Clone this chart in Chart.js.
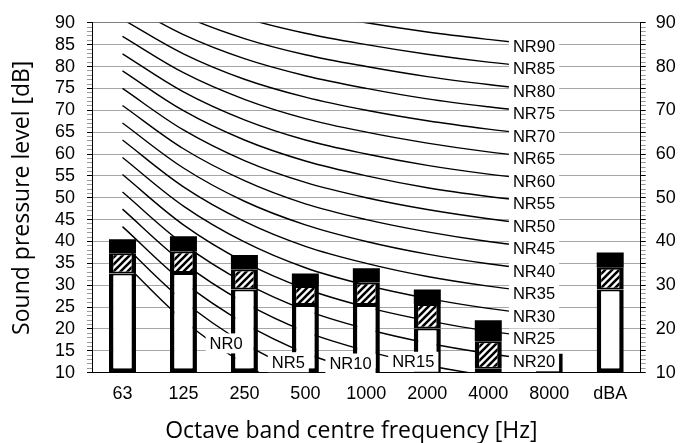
<!DOCTYPE html>
<html>
<head>
<meta charset="utf-8">
<script src="https://cdn.jsdelivr.net/npm/chart.js@4.4.1/dist/chart.umd.min.js"></script>
<style>
  html, body { margin: 0; padding: 0; background: #fff; }
</style>
</head>
<body>
<canvas id="c" width="680" height="443"></canvas>
<script>
// categories
const bands = ["63", "125", "250", "500", "1000", "2000", "4000", "8000", "dBA"];

// measured levels, dB (open part / hatched part / solid top)
const openTop  = [32.7, 32.8, 29.0, 25.5, 25.5, 20.1, 10.9, 14.4, 29.0];
const hatchTop = [37.3, 37.7, 33.6, 29.8, 30.6, 25.7, 17.2, null, 34.0];
const solidTop = [40.5, 41.2, 36.9, 32.7, 33.9, 29.0, 22.0, null, 37.5];

// NR curves, 63 ... 8000 Hz
const nrNames = ["NR0", "NR5", "NR10", "NR15", "NR20", "NR25", "NR30", "NR35", "NR40",
                 "NR45", "NR50", "NR55", "NR60", "NR65", "NR70", "NR75", "NR80", "NR85", "NR90"];
const nrCurves = [
    [35.5, 22.0, 12.0, 4.8, 0.0, -3.5, -6.1, -8.0],
    [39.5, 26.4, 16.7, 9.7, 5.0, 1.6, -1.0, -2.9],
    [43.4, 30.7, 21.3, 14.5, 10.0, 6.7, 4.2, 2.3],
    [47.4, 35.1, 26.0, 19.4, 15.0, 11.7, 9.3, 7.5],
    [51.3, 39.4, 30.6, 24.3, 20.0, 16.8, 14.4, 12.6],
    [55.3, 43.8, 35.3, 29.2, 25.0, 21.9, 19.5, 17.8],
    [59.2, 48.1, 39.9, 34.0, 30.0, 27.0, 24.7, 22.9],
    [63.2, 52.5, 44.6, 38.9, 35.0, 32.0, 29.8, 28.1],
    [67.1, 56.8, 49.2, 43.8, 40.0, 37.1, 34.9, 33.2],
    [71.1, 61.2, 53.9, 48.6, 45.0, 42.2, 40.0, 38.4],
    [75.0, 65.5, 58.5, 53.5, 50.0, 47.3, 45.2, 43.5],
    [79.0, 69.9, 63.2, 58.4, 55.0, 52.3, 50.3, 48.7],
    [82.9, 74.2, 67.8, 63.2, 60.0, 57.4, 55.4, 53.8],
    [86.9, 78.6, 72.5, 68.1, 65.0, 62.5, 60.5, 59.0],
    [90.8, 82.9, 77.1, 73.0, 70.0, 67.6, 65.7, 64.1],
    [94.8, 87.3, 81.8, 77.9, 75.0, 72.6, 70.8, 69.3],
    [98.7, 91.6, 86.4, 82.7, 80.0, 77.7, 75.9, 74.4],
    [102.7, 96.0, 91.1, 87.6, 85.0, 82.8, 81.0, 79.6],
    [106.6, 100.3, 95.7, 92.5, 90.0, 87.9, 86.2, 84.7]
];

// where the low curve names sit (band position, dB)
const lowLabelAt = { NR0: [1.70, 16.7], NR5: [2.72, 12.4], NR10: [3.74, 12.1], NR15: [4.77, 12.5] };
const endLabelPos = 6.75;

const xTitle = "Octave band centre frequency [Hz]";
const yTitle = "Sound pressure level [dB]";

// hatch fill
function makeHatch() {
    const n = 7;
    const p = document.createElement("canvas");
    p.width = n; p.height = n;
    const g = p.getContext("2d");
    g.fillStyle = "#fff";
    g.fillRect(0, 0, n, n);
    g.strokeStyle = "#000";
    g.lineWidth = 2.6;
    g.beginPath();
    for (let k = -1; k <= 1; k++) {
        g.moveTo(k * n - 1, n + 1);
        g.lineTo(k * n + n + 1, -1);
    }
    g.stroke();
    return g.createPattern(p, "repeat");
}
const hatch = makeHatch();

const nrLabels = {
    id: "nrLabels",
    afterDatasetsDraw(chart) {
        const { ctx, scales: { x, y } } = chart;
        ctx.save();
        ctx.font = "16.5px 'Liberation Sans', Arial, sans-serif";
        ctx.textAlign = "center";
        ctx.textBaseline = "middle";
        nrNames.forEach((name, i) => {
            let px, py;
            if (lowLabelAt[name]) {
                px = x.getPixelForValue(lowLabelAt[name][0]);
                py = y.getPixelForValue(lowLabelAt[name][1]);
            } else {
                px = x.getPixelForValue(endLabelPos);
                py = y.getPixelForValue(nrCurves[i][7]);
            }
            const w = ctx.measureText(name).width;
            ctx.fillStyle = "#fff";
            ctx.fillRect(px - w / 2 - 4, py - 10, w + 8, 20);
            ctx.fillStyle = "#000";
            ctx.fillText(name, px, py + 1);
        });
        ctx.restore();
    }
};

// x title sits a little left of the plot centre in the original
const xTitlePlugin = {
    id: "xTitle",
    afterDraw(chart) {
        const { ctx, chartArea } = chart;
        ctx.save();
        ctx.font = "23px 'Open Sans', sans-serif";
        ctx.fillStyle = "#000";
        ctx.textAlign = "center";
        ctx.textBaseline = "alphabetic";
        ctx.fillText(xTitle, (chartArea.left + chartArea.right) / 2 - 15, chart.height - 5);
        ctx.restore();
    }
};

const barCommon = {
    type: "bar",
    grouped: false,
    barPercentage: 0.443,
    categoryPercentage: 1,
    borderColor: "#000",
    borderSkipped: false,
    order: 1
};

const datasets = [
    Object.assign({}, barCommon, {
        data: bands.map((b, i) => [10, openTop[i]]),
        backgroundColor: "#fff",
        borderWidth: { left: 4.5, right: 4.5, bottom: 4.5, top: 2 }
    }),
    Object.assign({}, barCommon, {
        data: bands.map((b, i) => hatchTop[i] == null ? null : [openTop[i], hatchTop[i]]),
        backgroundColor: hatch,
        borderWidth: { left: 4.5, right: 4.5, bottom: 2, top: 2 }
    }),
    Object.assign({}, barCommon, {
        data: bands.map((b, i) => solidTop[i] == null ? null : [hatchTop[i], solidTop[i]]),
        backgroundColor: "#000",
        borderWidth: 0
    })
];

nrCurves.forEach((vals, i) => {
    datasets.push({
        type: "line",
        label: nrNames[i],
        data: vals,
        borderColor: "#000",
        borderWidth: 1.4,
        pointRadius: 0,
        tension: 0.35,
        capBezierPoints: false,
        fill: false,
        clip: 0,
        order: 10
    });
});

const tickFont = { family: "'Liberation Sans', Arial, sans-serif", size: 18 };
const titleFont = { family: "'Open Sans', sans-serif", size: 23 };
const minorTick = c => (c.tick && c.tick.value % 5 === 0) ? "#000" : "#9a9a9a";

new Chart(document.getElementById("c"), {
    type: "bar",
    data: { labels: bands, datasets },
    options: {
        responsive: false,
        animation: false,
        events: [],
        layout: { padding: { top: 17, left: 0, right: 0, bottom: 0 } },
        plugins: { legend: { display: false }, tooltip: { enabled: false } },
        scales: {
            x: {
                type: "category",
                offset: true,
                grid: { display: false, drawTicks: false },
                border: { display: true, color: "#000", width: 1 },
                ticks: { color: "#000", font: tickFont, padding: 11, maxRotation: 0 },
                afterFit: s => { s.height = 70.3; }
            },
            y: {
                position: "left",
                min: 10, max: 90,
                ticks: { stepSize: 1, autoSkip: false, color: "#000", font: tickFont, padding: 12,
                         callback: v => v % 5 === 0 ? v : "" },
                grid: {
                    color: c => (c.tick && c.tick.value === 90) ? "#7f7f7f"
                        : (c.tick && c.tick.value % 5 === 0) ? "#a6a6a6" : "rgba(0,0,0,0)",
                    tickColor: minorTick, tickLength: 5
                },
                border: { color: "#000", width: 1 },
                title: { display: true, text: yTitle, color: "#000",
                         font: titleFont, padding: { top: 9, bottom: 0 } },
                afterFit: s => { s.width = 92; }
            },
            y2: {
                position: "right",
                min: 10, max: 90,
                ticks: { stepSize: 1, autoSkip: false, color: "#000", font: tickFont, padding: 10,
                         callback: v => v % 10 === 0 ? v : "" },
                grid: { drawOnChartArea: false, tickColor: minorTick, tickLength: 5 },
                border: { color: "#000", width: 1 },
                afterFit: s => { s.width = 39.3; }
            }
        }
    },
    plugins: [nrLabels, xTitlePlugin]
});
</script>
</body>
</html>
